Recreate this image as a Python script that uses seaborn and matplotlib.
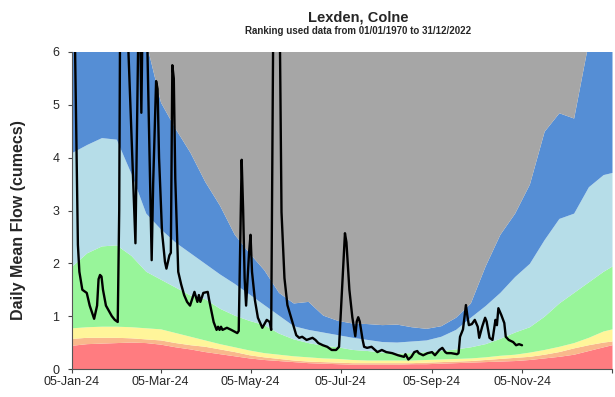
import numpy as np
import pandas as pd
import matplotlib
matplotlib.use("Agg")
import matplotlib.pyplot as plt
import seaborn as sns

sns.set_style("white")
plt.rcParams['font.family'] = ['Liberation Sans', 'DejaVu Sans']

start = pd.Timestamp("2024-01-05")

# ---- band boundaries (day offsets from 05-Jan-24) ----
band_days = [0, 10, 20, 30, 40, 50, 60, 70, 80, 90, 100, 110, 120, 130, 140, 150,
             160, 170, 180, 190, 200, 210, 220, 230, 240, 250, 260, 270, 280, 290,
             300, 310, 320, 330, 340, 350, 360, 366]
red_top = [0.45, 0.48, 0.49, 0.50, 0.51, 0.50, 0.47, 0.42, 0.38, 0.33, 0.29, 0.25, 0.21,
           0.18, 0.16, 0.14, 0.12, 0.11, 0.10, 0.09, 0.09, 0.09, 0.09, 0.10, 0.10, 0.11,
           0.12, 0.13, 0.14, 0.15, 0.16, 0.18, 0.21, 0.24, 0.28, 0.35, 0.42, 0.46]
orange_top = [0.58, 0.60, 0.60, 0.60, 0.59, 0.57, 0.55, 0.50, 0.46, 0.43, 0.38, 0.33, 0.27,
              0.23, 0.20, 0.17, 0.15, 0.14, 0.13, 0.12, 0.12, 0.12, 0.12, 0.12, 0.13, 0.14,
              0.15, 0.16, 0.18, 0.20, 0.22, 0.24, 0.28, 0.33, 0.40, 0.46, 0.51, 0.53]
yellow_top = [0.78, 0.80, 0.81, 0.81, 0.80, 0.78, 0.76, 0.69, 0.62, 0.55, 0.48, 0.42, 0.36,
              0.31, 0.28, 0.25, 0.23, 0.21, 0.20, 0.18, 0.17, 0.17, 0.17, 0.17, 0.18, 0.19,
              0.20, 0.21, 0.23, 0.26, 0.28, 0.32, 0.37, 0.43, 0.50, 0.60, 0.72, 0.76]
green_top = [1.95, 2.20, 2.33, 2.35, 2.15, 1.85, 1.70, 1.55, 1.40, 1.33, 1.15, 1.02, 0.92,
             0.84, 0.68, 0.57, 0.50, 0.45, 0.42, 0.37, 0.35, 0.32, 0.30, 0.31, 0.33, 0.35,
             0.38, 0.42, 0.48, 0.58, 0.70, 0.80, 1.00, 1.25, 1.45, 1.65, 1.85, 1.95]
lightblue_top = [4.10, 4.25, 4.38, 4.35, 3.70, 2.95, 2.65, 2.40, 2.20, 2.00, 1.80, 1.62, 1.42,
                 1.22, 1.02, 0.82, 0.75, 0.70, 0.65, 0.60, 0.56, 0.52, 0.51, 0.53, 0.55, 0.62,
                 0.75, 0.98, 1.20, 1.45, 1.75, 2.00, 2.45, 2.85, 2.95, 3.45, 3.68, 3.72]
blue_top = [6.5, 6.5, 6.5, 6.5, 6.5, 6.2, 5.05, 4.55, 4.10, 3.55, 3.10, 2.55, 2.20,
            1.88, 1.45, 1.25, 1.28, 1.02, 0.92, 0.87, 0.86, 0.84, 0.85, 0.80, 0.77, 0.82,
            0.98, 1.25, 1.95, 2.55, 2.95, 3.50, 4.50, 4.85, 4.75, 6.20, 6.50, 6.50]

# ---- observed daily mean flow ----
flow_days = [0, 2, 4, 5, 7, 10, 12, 15, 17, 18, 19, 20, 21, 23, 25, 27, 29, 31, 32, 33,
             36, 38, 43, 45, 46, 47, 48, 50, 51, 54, 55, 57, 58, 59, 61, 63, 64, 66, 67,
             68, 69, 70, 72, 74, 76, 78, 80, 83, 85, 86, 87, 89, 92, 93, 96, 98, 99, 100,
             101, 102, 105, 108, 112, 113, 115, 116, 117, 118, 120, 121, 122, 124, 126,
             129, 132, 134, 135, 137, 140, 142, 144, 146, 150, 152, 154, 156, 159, 163,
             165, 167, 170, 173, 176, 179, 181, 183, 185, 186, 188, 190, 192, 193, 194,
             195, 197, 198, 200, 203, 207, 210, 213, 217, 221, 225, 226, 228, 230, 232,
             234, 235, 238, 241, 244, 246, 249, 251, 253, 254, 257, 261, 262, 263, 265,
             267, 268, 269, 271, 273, 275, 276, 278, 280, 281, 283, 285, 287, 288, 289,
             291, 293, 294, 296, 299, 301, 303, 305]
flow = [12.0, 6.2, 2.35, 1.84, 1.50, 1.44, 1.20, 0.95, 1.20, 1.70, 1.78, 1.75, 1.50, 1.20,
        1.10, 1.00, 0.93, 0.89, 3.00, 9.0, 9.0, 6.2, 2.38, 6.5, 7.0, 4.85, 7.0, 7.0, 6.2,
        2.06, 3.50, 5.45, 5.30, 4.00, 2.60, 2.03, 1.90, 2.15, 2.20, 5.75, 5.50, 3.60, 1.84,
        1.60, 1.40, 1.27, 1.20, 1.46, 1.27, 1.40, 1.27, 1.44, 1.46, 1.30, 0.89, 0.74, 0.80,
        0.74, 0.80, 0.74, 0.78, 0.74, 0.68, 0.72, 3.96, 3.00, 1.72, 1.20, 2.20, 2.54, 1.84,
        1.30, 0.97, 0.78, 0.93, 0.89, 0.74, 9.0, 9.0, 2.97, 1.72, 1.21, 0.83, 0.64, 0.59,
        0.61, 0.55, 0.59, 0.55, 0.49, 0.45, 0.42, 0.36, 0.36, 0.42, 1.50, 2.57, 2.40, 1.50,
        0.98, 0.62, 0.90, 0.98, 0.90, 0.55, 0.42, 0.40, 0.42, 0.32, 0.36, 0.32, 0.30, 0.26,
        0.23, 0.28, 0.18, 0.23, 0.32, 0.34, 0.30, 0.26, 0.30, 0.32, 0.26, 0.36, 0.40, 0.32,
        0.30, 0.30, 0.28, 0.30, 0.61, 0.75, 1.21, 1.00, 0.83, 0.85, 0.93, 0.80, 0.59, 0.80,
        0.97, 0.90, 0.59, 0.55, 0.93, 0.83, 1.15, 1.02, 0.87, 0.61, 0.55, 0.51, 0.45, 0.47,
        0.45]

tick_labels = ["05-Jan-24", "05-Mar-24", "05-May-24", "05-Jul-24", "05-Sep-24",
               "05-Nov-24", ""]
tick_dates = ["2024-01-05", "2024-03-05", "2024-05-05", "2024-07-05", "2024-09-05",
              "2024-11-05", "2025-01-05"]

title = "Lexden, Colne"
subtitle = "Ranking used data from 01/01/1970 to 31/12/2022"
ylabel = "Daily Mean Flow (cumecs)"

# ---- build ----
bdates = start + pd.to_timedelta(band_days, unit="D")
fdf = pd.DataFrame({"date": start + pd.to_timedelta(flow_days, unit="D"), "flow": flow})

colors = ["#FF7C80", "#F9B88C", "#FFF59A", "#98F59A", "#B6DDE8", "#558ED5", "#A6A6A6"]
bounds = [np.zeros(len(band_days)), red_top, orange_top, yellow_top, green_top,
          lightblue_top, blue_top, np.full(len(band_days), 7.0)]

fig = plt.figure(figsize=(6.15, 3.97), dpi=100)
ax = fig.add_axes([72 / 615, 1 - 369 / 397, 540 / 615, 317 / 397])

for i, c in enumerate(colors):
    ax.fill_between(bdates, bounds[i], bounds[i + 1], color=c, linewidth=0)

sns.lineplot(data=fdf, x="date", y="flow", color="black", linewidth=1.7, ax=ax)

ax.set_ylim(0, 6)
ax.set_xlim(pd.Timestamp("2024-01-05"), pd.Timestamp("2025-01-05"))
ax.set_yticks(range(0, 7))
ax.set_xticks(pd.to_datetime(tick_dates))
ax.set_xticklabels(tick_labels)
ax.tick_params(axis="both", labelsize=9, length=3, direction="out", color="#444444",
               bottom=True, left=True)
ax.tick_params(axis="x", pad=2)
ax.tick_params(axis="y", pad=6)
ax.set_xlabel("")
ax.set_ylabel(ylabel, fontsize=11.5, fontweight="bold", labelpad=18)
ax.yaxis.set_label_coords(-0.085, 0.47)
for s in ["top", "right"]:
    ax.spines[s].set_visible(False)
for s in ["left", "bottom"]:
    ax.spines[s].set_color("#555555")
    ax.spines[s].set_linewidth(0.8)

fig.text(358 / 615, 1 - 17 / 397, title, ha="center", va="center", fontsize=10.5,
         fontweight="bold")
fig.text(358 / 615, 1 - 31 / 397, subtitle, ha="center", va="center", fontsize=7,
         fontweight="bold")

fig.savefig("out.png", dpi=100)
